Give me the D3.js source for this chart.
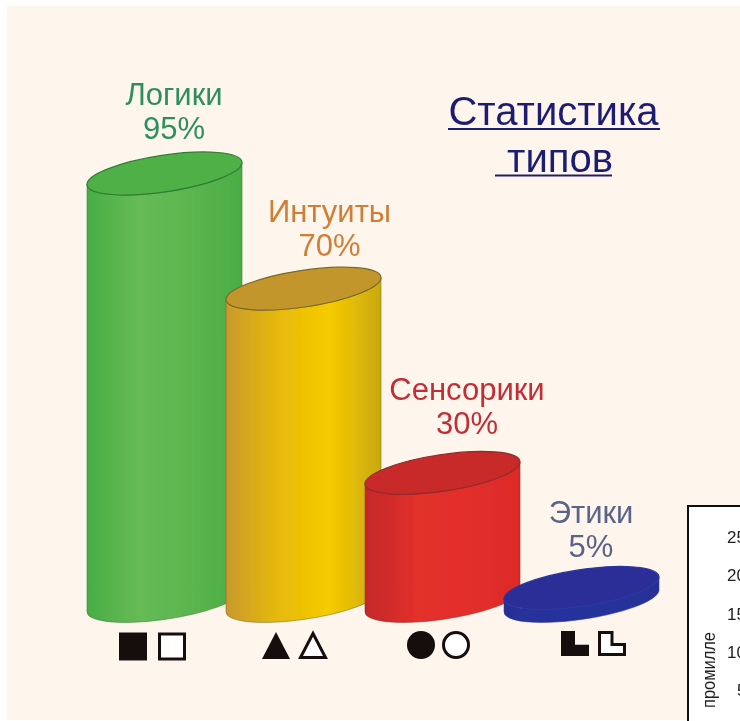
<html>
<head>
<meta charset="utf-8">
<script src="https://d3js.org/d3.v7.min.js"></script>
<style>
body { margin: 0; background: #fff; }
text { font-family: "Liberation Sans", Arial, sans-serif; }
</style>
</head>
<body>
<svg id="chart" width="740" height="721" style="display:block"></svg>
<script>
const categories = ["Логики", "Интуиты", "Сенсорики", "Этики"];
const percents = [95, 70, 30, 5];
const glyphs = ["square", "triangle", "circle", "corner"];
const insetTicks = [25, 20, 15, 10, 5];
const titleLines = ["Статистика", "типов"];

const svg = d3.select("svg#chart");

const styles = [
    { label: "#2f8f5c", top: "#4fb046", edge: "#2f7d33", stops: ["#48ad45", "#66bb55", "#5cb54f", "#4aad45"] },
    { label: "#cf7f35", top: "#c2962c", edge: "#7a6a28", stops: ["#c99a2c", "#e6b90a", "#f6cb00", "#c9a90f"] },
    { label: "#c22d35", top: "#c82a2b", edge: "#8e2a2a", stops: ["#c4282a", "#e2302c", "#e32f2a", "#dd2a28"] },
    { label: "#5c6488", top: "#2b2f96", edge: "#2a369f", stops: ["#252f96", "#27329c", "#27329c", "#252f96"] }
];

// the cylinders are tilted ellipses, centre x comes from a band scale
const x = d3.scaleBand().domain(categories).range([95, 651]).padding(0);
const y = d3.scaleLinear().domain([5, 95]).range([588, 173.5]);
const baseY = 601;
const rx = 78.3, ry = 18.3, tilt = -8.5;
const tx = 77.5, ty = 10.5;

const defs = svg.append("defs");
defs.append("filter").attr("id", "soft")
    .append("feGaussianBlur").attr("stdDeviation", 0.6);

categories.forEach((c, i) => {
    const grad = defs.append("linearGradient").attr("id", "body" + i);
    styles[i].stops.forEach((s, j) => {
        grad.append("stop").attr("offset", j / 3).attr("stop-color", s);
    });
});

// cream page, the white strip on the left and top is part of the picture
svg.append("rect")
    .attr("x", 7).attr("y", 6)
    .attr("width", 733).attr("height", 714)
    .attr("fill", "#fef5ed");

const chart = svg.append("g").attr("filter", "url(#soft)");

// inset chart cut off by the corner of the picture
const inset = chart.append("g");
inset.append("rect")
    .attr("x", 688).attr("y", 506)
    .attr("width", 70).attr("height", 230)
    .attr("fill", "#fff").attr("stroke", "#111").attr("stroke-width", 2);
const insetY = d3.scaleLinear().domain([5, 25]).range([690, 537]);
inset.selectAll("text.tick")
    .data(insetTicks)
    .join("text")
    .attr("class", "tick")
    .attr("x", d => d < 10 ? 737 : 727)
    .attr("y", d => insetY(d) + 6)
    .attr("font-size", 17)
    .attr("fill", "#222")
    .text(d => d);
inset.append("text")
    .attr("transform", "translate(715,708) rotate(-90)")
    .attr("font-size", 19)
    .attr("textLength", 76)
    .attr("lengthAdjust", "spacingAndGlyphs")
    .attr("fill", "#222")
    .text("промилле");

const bars = chart.selectAll("g.bar")
    .data(categories)
    .join("g")
    .attr("class", "bar");

bars.append("path")
    .attr("fill", (d, i) => `url(#body${i})`)
    .attr("stroke", (d, i) => styles[i].edge)
    .attr("stroke-opacity", 0.55)
    .attr("d", (d, i) => {
        const cx = x(d) + x.bandwidth() / 2;
        const top = y(percents[i]);
        return `M${cx - tx},${top + ty} L${cx - tx},${baseY + ty}`
            + ` A${rx},${ry} ${tilt} 0 0 ${cx + tx},${baseY - ty}`
            + ` L${cx + tx},${top - ty}`
            + ` A${rx},${ry} ${tilt} 0 1 ${cx - tx},${top + ty} Z`;
    });

bars.append("ellipse")
    .attr("cx", 0).attr("cy", 0)
    .attr("rx", rx).attr("ry", ry)
    .attr("transform", (d, i) => `translate(${x(d) + x.bandwidth() / 2},${y(percents[i])}) rotate(${tilt})`)
    .attr("fill", (d, i) => styles[i].top)
    .attr("stroke", (d, i) => styles[i].edge)
    .attr("stroke-width", 1.2);

// labels above each cylinder
const labelCenter = [174, 329.5, 467, 591];
const labelY = [105, 222, 400, 523];
bars.append("text")
    .attr("x", (d, i) => labelCenter[i])
    .attr("y", (d, i) => labelY[i])
    .attr("text-anchor", "middle")
    .attr("font-size", 31)
    .attr("fill", (d, i) => styles[i].label)
    .text(d => d);
bars.append("text")
    .attr("x", (d, i) => labelCenter[i])
    .attr("y", (d, i) => labelY[i] + 34)
    .attr("text-anchor", "middle")
    .attr("font-size", 31)
    .attr("fill", (d, i) => styles[i].label)
    .text((d, i) => percents[i] + "%");

// black and white type signs under the cylinders
const glyphLeft = [119, 262, 407, 561];
const glyphTop = [632.5, 632, 632, 631];
const glyphGap = [39, 37, 35, 37];
const glyphPath = {
    square: (w, h) => `M0,0 H${w} V${h} H0 Z`,
    triangle: (w, h) => `M${w / 2},0 L${w},${h} H0 Z`,
    corner: (w, h) => `M0,0 H${w * 0.5} V${h * 0.55} H${w} V${h} H0 Z`
};
const glyphHeight = { square: 28, triangle: 27, corner: 25 };
const signs = chart.append("g");
glyphs.forEach((g, i) => {
    [0, 1].forEach(k => {
        const filled = k === 0;
        const left = glyphLeft[i] + k * glyphGap[i];
        const off = filled ? 0 : 1.5;
        const fill = filled ? "#141110" : "#fff";
        const stroke = filled ? "none" : "#141110";
        if (g === "circle") {
            signs.append("circle")
                .attr("cx", left + 14).attr("cy", 645)
                .attr("r", filled ? 14 : 12.5)
                .attr("fill", fill).attr("stroke", stroke).attr("stroke-width", 3);
        } else {
            signs.append("path")
                .attr("transform", `translate(${left + off},${glyphTop[i] + off})`)
                .attr("d", glyphPath[g](filled ? 28 : 25, filled ? glyphHeight[g] : glyphHeight[g] - 3))
                .attr("fill", fill).attr("stroke", stroke).attr("stroke-width", 3);
        }
    });
});

// title
const title = chart.append("g");
const titleX = [553.5, 560];
const titleY = [125, 171.5];
const ruleX = [[448, 660], [495, 612]];
titleLines.forEach((t, i) => {
    title.append("text")
        .attr("x", titleX[i]).attr("y", titleY[i])
        .attr("text-anchor", "middle")
        .attr("font-size", 40)
        .attr("fill", "#1f1f72")
        .text(t);
    title.append("line")
        .attr("x1", ruleX[i][0]).attr("x2", ruleX[i][1])
        .attr("y1", titleY[i] + 4).attr("y2", titleY[i] + 4)
        .attr("stroke", "#1f1f72").attr("stroke-width", 2);
});
</script>
</body>
</html>
